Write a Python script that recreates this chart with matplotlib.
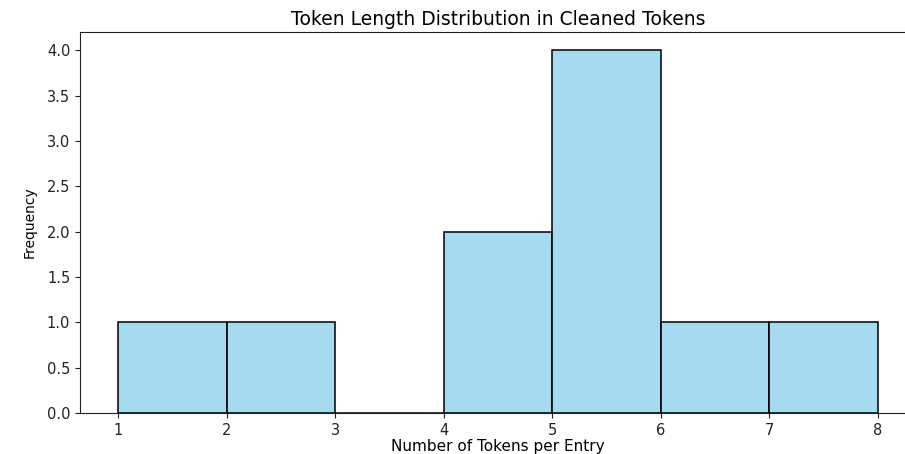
import matplotlib
matplotlib.use("Agg")
import matplotlib.pyplot as plt

plt.rcParams["font.family"] = ["DejaVu Sans"]

# token counts per cleaned entry
token_counts = [1, 2, 4, 4, 5, 5, 5, 5, 6, 7]
bin_edges = [1, 2, 3, 4, 5, 6, 7, 8]
y_ticks = [0.0, 0.5, 1.0, 1.5, 2.0, 2.5, 3.0, 3.5, 4.0]

fig = plt.figure(figsize=(9.05, 4.54), dpi=100)
# axes runs past the right edge of the picture, as in the reference
ax = fig.add_axes([80 / 905, 41 / 454, 836 / 905, 381 / 454])

ax.hist(token_counts, bins=bin_edges, facecolor=(0.529, 0.808, 0.922, 0.75),
        edgecolor="black", linewidth=1.1)
ax.margins(x=0.05)
ax.set_ylim(0, 4.2)
ax.set_yticks(y_ticks)

ax.set_title("Token Length Distribution in Cleaned Tokens", fontsize=13.5, pad=5)
ax.set_xlabel("Number of Tokens per Entry", fontsize=11, labelpad=1)
ax.set_ylabel("Frequency", fontsize=10, family="Liberation Sans Narrow", labelpad=7)
ax.tick_params(labelsize=10.5, colors="#222222")
for s in ax.spines.values():
    s.set_color("#222222")

fig.savefig("out.png", dpi=100)
